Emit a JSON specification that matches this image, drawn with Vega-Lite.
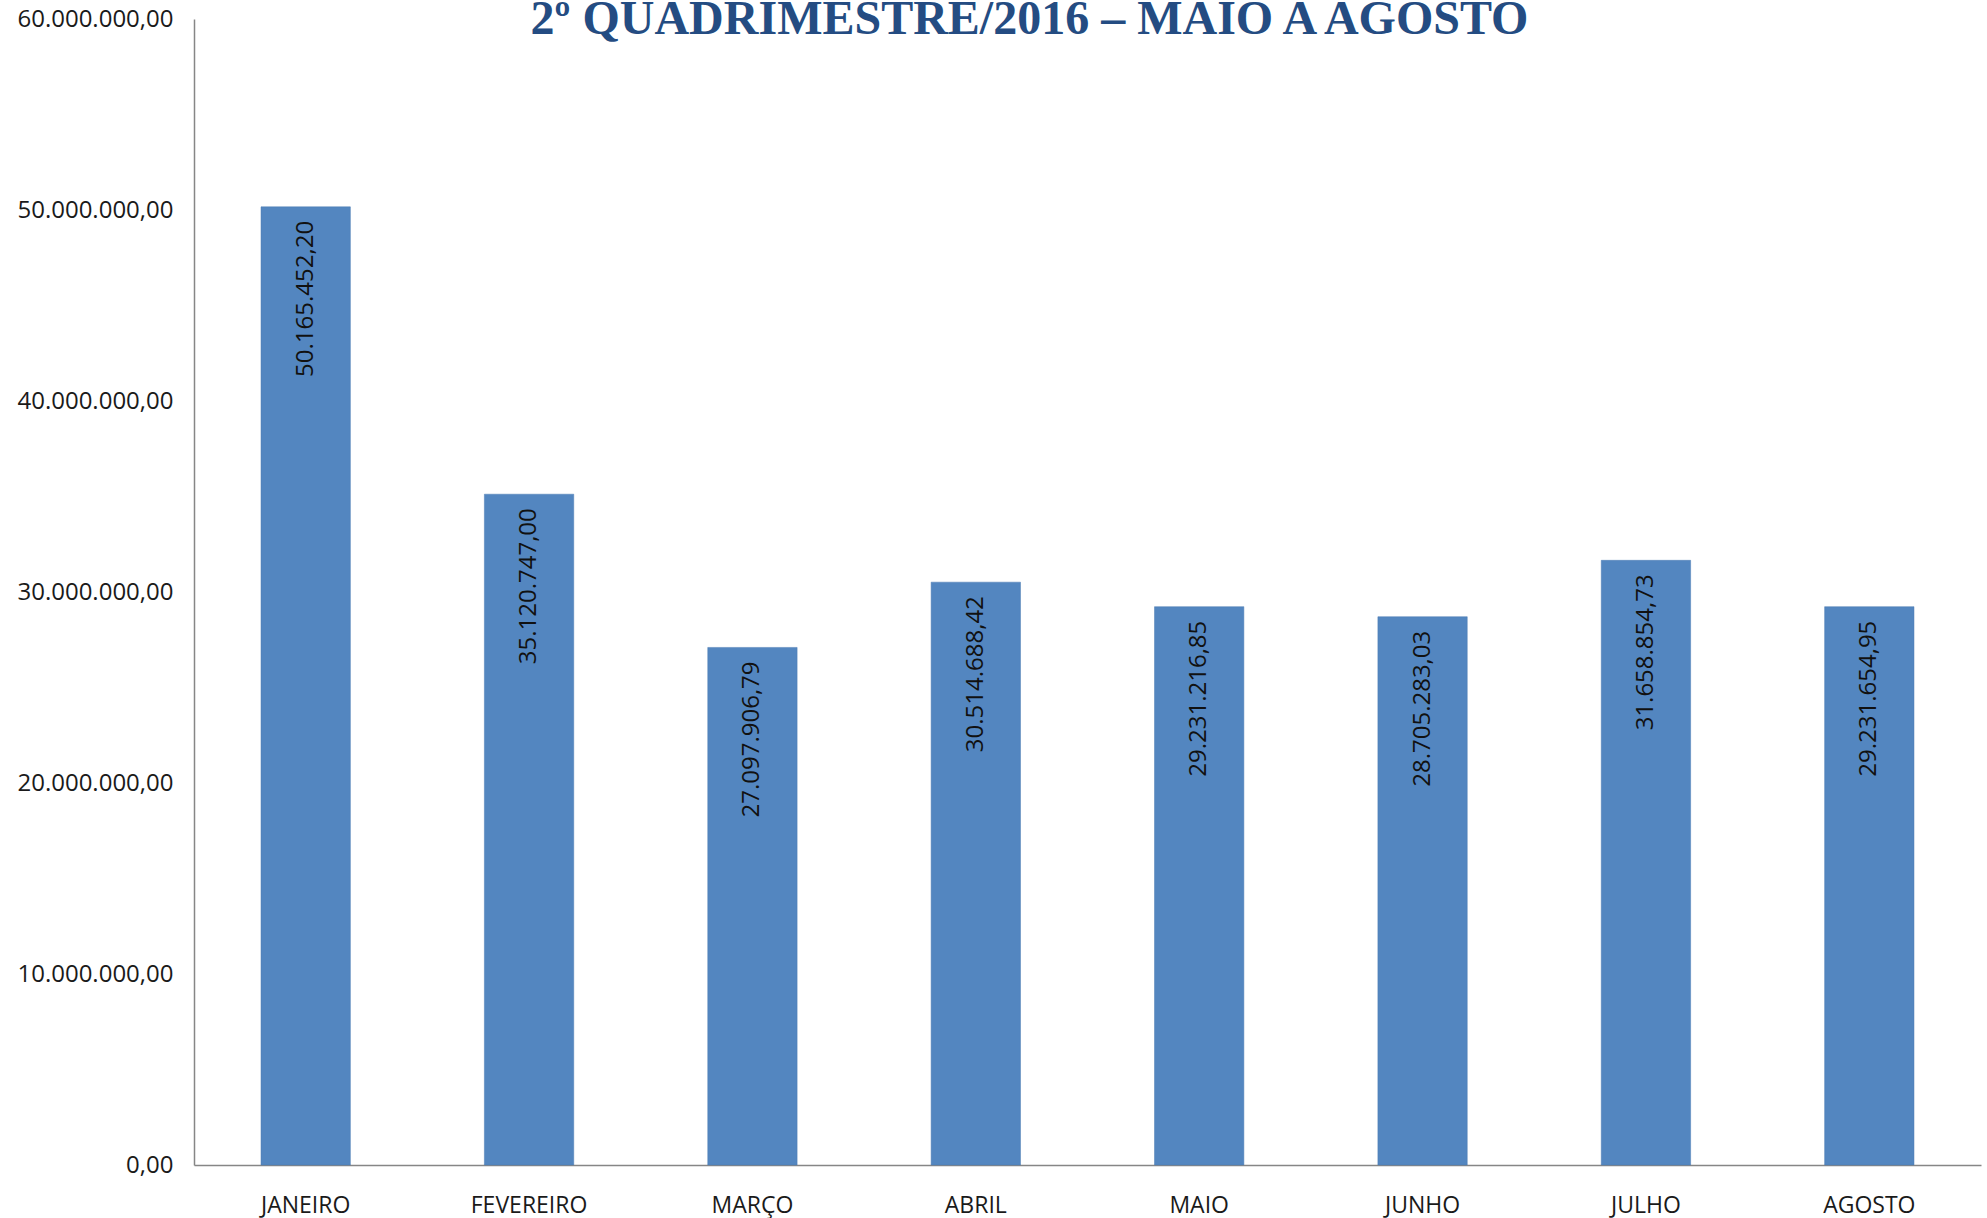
{
  "$schema": "https://vega.github.io/schema/vega-lite/v6.json",
  "width": 1787,
  "height": 1146,
  "autosize": {"type": "none"},
  "padding": {"left": 194, "top": 19, "right": 6, "bottom": 53},
  "background": "white",
  "config": {
    "view": {"stroke": null},
    "locale": {"number": {"decimal": ",", "thousands": ".", "grouping": [3], "currency": ["R$", ""]}}
  },
  "title": {
    "text": "2º QUADRIMESTRE/2016 – MAIO A AGOSTO",
    "font": "Liberation Serif",
    "fontWeight": "bold",
    "fontSize": 48,
    "color": "#244C82",
    "anchor": "middle",
    "frame": "group",
    "baseline": "alphabetic",
    "offset": -75,
    "dx": -58
  },
  "data": {
    "values": [
      {"mes": "JANEIRO", "valor": 50165452.20},
      {"mes": "FEVEREIRO", "valor": 35120747.00},
      {"mes": "MARÇO", "valor": 27097906.79},
      {"mes": "ABRIL", "valor": 30514688.42},
      {"mes": "MAIO", "valor": 29231216.85},
      {"mes": "JUNHO", "valor": 28705283.03},
      {"mes": "JULHO", "valor": 31658854.73},
      {"mes": "AGOSTO", "valor": 29231654.95}
    ]
  },
  "encoding": {
    "x": {
      "field": "mes",
      "type": "nominal",
      "sort": null,
      "scale": {"paddingInner": 0.6, "paddingOuter": 0.3},
      "axis": {
        "title": null,
        "labelAngle": 0,
        "labelFont": "Open Sans",
        "labelFontSize": 23,
        "labelColor": "#1a1a1a",
        "labelPadding": 29,
        "labelBaseline": "top",
        "ticks": false,
        "domainColor": "#868686",
        "domainWidth": 1.5,
        "grid": false
      }
    },
    "y": {
      "field": "valor",
      "type": "quantitative",
      "scale": {"domain": [0, 60000000], "nice": false},
      "axis": {
        "title": null,
        "values": [0, 10000000, 20000000, 30000000, 40000000, 50000000, 60000000],
        "format": ",.2f",
        "labelFont": "Open Sans",
        "labelFontSize": 24,
        "labelColor": "#1a1a1a",
        "labelPadding": 21,
        "ticks": false,
        "grid": false,
        "domainColor": "#868686",
        "domainWidth": 1.5
      }
    }
  },
  "layer": [
    {
      "mark": {"type": "bar", "color": "#5386C0", "stroke": "#4a7ab3", "strokeWidth": 0.5}
    },
    {
      "mark": {
        "type": "text",
        "angle": 270,
        "align": "right",
        "baseline": "middle",
        "dx": -14,
        "font": "Open Sans",
        "fontSize": 24,
        "color": "#111111"
      },
      "encoding": {
        "text": {"field": "valor", "type": "quantitative", "format": ",.2f"}
      }
    }
  ]
}
